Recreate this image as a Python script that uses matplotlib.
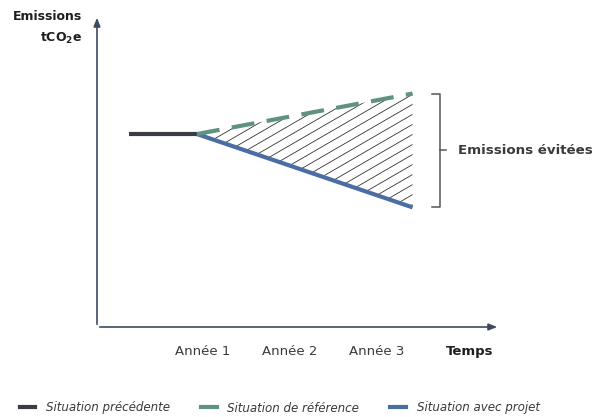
import numpy as np
import matplotlib.pyplot as plt
from matplotlib.lines import Line2D

# data (arbitrary units)
t_prev = [0.15, 0.93]
e_prev = [100, 100]
t_proj = [0.93, 3.42]
e_ref = [100, 121]
e_proj = [100, 62]
years = [1, 2, 3]
year_labels = ["Année 1", "Année 2", "Année 3"]
legend_labels = ["Situation précédente", "Situation de référence", "Situation avec projet"]

c_prev = "#3b3d44"
c_ref = "#5f9283"
c_proj = "#4a6ea3"
c_axis = "#3c4a62"
c_text = "#3a3a3a"

fig = plt.figure(figsize=(5.95, 4.17), dpi=100)
ax = fig.add_axes([97 / 595, 90 / 417, 403 / 595, 312 / 417])
ax.set_xlim(-0.225, 4.43)
ax.set_ylim(0, 161.7)
for s in ax.spines.values():
    s.set_visible(False)
ax.set_yticks([])
ax.set_xticks(years)
ax.set_xticklabels(year_labels, fontsize=9.5, color=c_text)
ax.tick_params(axis="x", length=0, pad=13)

# axes with arrows
ax.annotate("", xy=(1.0, 0), xytext=(0, 0), xycoords="axes fraction",
            arrowprops=dict(arrowstyle="-|>,head_length=0.5,head_width=0.2", color=c_axis, lw=1.2),
            annotation_clip=False)
ax.annotate("", xy=(0, 1.0), xytext=(0, 0), xycoords="axes fraction",
            arrowprops=dict(arrowstyle="-|>,head_length=0.5,head_width=0.2", color=c_axis, lw=1.2),
            annotation_clip=False)

# hatched area between reference and project
t = np.array(t_proj)
poly = ax.fill_between(t, e_proj, e_ref, facecolor="none", edgecolor="none", lw=0)
path = poly.get_paths()[0]
slope = 26.0
for c in np.arange(-120, 80, 5.2):
    xs = np.array([t[0], t[1]])
    ys = e_ref[1] + c + slope * (xs - t[1])
    ln, = ax.plot(xs, ys, color="#333333", lw=0.6)
    ln.set_clip_path(path, ax.transData)

ax.plot(t_prev, e_prev, color=c_prev, lw=3, solid_capstyle="butt")
ax.plot(t_proj, e_proj, color=c_proj, lw=3, solid_capstyle="butt")
ax.plot(t_proj, e_ref, color=c_ref, lw=3, dashes=(5.5, 3))

# bracket
top, bot = e_ref[1], e_proj[1]
mid = (top + bot) / 2
bx0, bx1 = 3.65, 3.74
ax.plot([bx0, bx1, bx1, bx0], [top, top, bot, bot], color="#555555", lw=1.1, clip_on=False)
ax.plot([bx1, bx1 + 0.07], [mid, mid], color="#555555", lw=1.1, clip_on=False)
ax.text(3.95, mid, "Emissions évitées", fontsize=9.6, fontweight="bold", color=c_text,
        va="center", ha="left", clip_on=False)

# axis labels
ax.text(0.925, -0.08, "Temps", transform=ax.transAxes, fontsize=9.5, fontweight="bold",
        color="#1e1e1e", ha="center", va="center")
fig.text(82 / 595, 1 - 17 / 417, "Emissions", fontsize=9, fontweight="bold", color="#1e1e1e",
         ha="right", va="center")
fig.text(82 / 595, 1 - 38 / 417, r"tCO$_\mathbf{2}$e", fontsize=9, fontweight="bold",
         color="#1e1e1e", ha="right", va="center")

handles = [Line2D([], [], color=c, lw=3) for c in (c_prev, c_ref, c_proj)]
leg = fig.legend(handles, legend_labels, loc="center", bbox_to_anchor=(0.47, 9 / 417),
                 ncol=3, frameon=False, handlelength=1.3, columnspacing=2.6, handletextpad=0.9,
                 prop=dict(size=8.6, style="italic"))
for txt in leg.get_texts():
    txt.set_color(c_text)

fig.savefig("out.png", dpi=100)
